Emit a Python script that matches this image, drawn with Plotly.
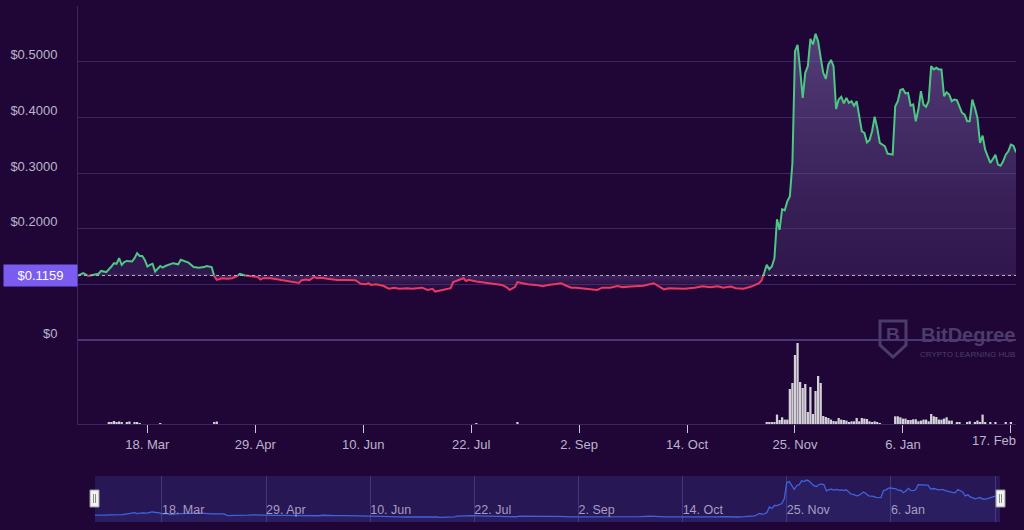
import numpy as np
import pandas as pd
import plotly.graph_objects as go

# ---------------- data ----------------
start_date = "2021-02-19"
baseline_price = 0.1159

price_day = [0, 2, 4, 6, 8, 9, 11, 13, 14, 15, 16, 17, 18, 19, 21, 22, 23, 24, 25, 26,
             27, 28, 29, 30, 32, 33, 34, 37, 39, 40, 42, 43, 45, 47, 49, 50, 52, 53, 54, 56,
             58, 60, 62, 63, 65, 68, 70, 71, 72, 75, 78, 80, 83, 86, 87, 89, 90, 92, 93, 95,
             97, 101, 105, 108, 110, 112, 113, 114, 116, 119, 121, 123, 125, 128, 130, 132, 134, 136, 138, 139,
             140, 143, 145, 146, 148, 150, 151, 152, 155, 157, 160, 162, 165, 167, 168, 170, 171, 173, 175, 178,
             181, 183, 186, 188, 190, 192, 194, 197, 199, 202, 204, 207, 210, 212, 215, 218, 220, 224, 226, 228,
             230, 233, 236, 240, 243, 246, 249, 251, 254, 256, 259, 262, 264, 265, 266, 267, 268, 269, 270, 271,
             272, 273, 274, 275, 276, 277, 278, 279, 280, 281, 282, 283, 284, 285, 286, 287, 288, 289, 290, 291,
             292, 293, 294, 295, 296, 297, 298, 299, 300, 301, 302, 303, 304, 305, 306, 307, 308, 309, 310, 311,
             312, 313, 314, 315, 317, 318, 319, 320, 321, 322, 323, 324, 325, 326, 327, 328, 329, 330, 331, 332,
             333, 334, 335, 336, 337, 338, 339, 340, 341, 342, 343, 344, 345, 346, 347, 348, 349, 350, 351, 352,
             353, 354, 355, 356, 357, 358, 359, 360, 361, 362, 363, 364, 365]
price_usd = [0.1159, 0.120, 0.115, 0.1175, 0.119, 0.124, 0.122, 0.132, 0.138, 0.137, 0.147, 0.135, 0.140, 0.142, 0.141, 0.147, 0.156, 0.151, 0.151, 0.144,
             0.132, 0.135, 0.137, 0.123, 0.133, 0.130, 0.133, 0.138, 0.136, 0.144, 0.140, 0.139, 0.131, 0.130, 0.131, 0.133, 0.131, 0.115, 0.108, 0.111,
             0.110, 0.111, 0.115, 0.119, 0.116, 0.114, 0.113, 0.1085, 0.111, 0.111, 0.109, 0.107, 0.105, 0.1025, 0.1075, 0.1085, 0.1075, 0.1135, 0.111, 0.112,
             0.110, 0.108, 0.108, 0.1075, 0.101, 0.100, 0.102, 0.099, 0.100, 0.097, 0.092, 0.094, 0.092, 0.093, 0.092, 0.093, 0.094, 0.090, 0.092, 0.087,
             0.088, 0.0905, 0.093, 0.104, 0.108, 0.111, 0.106, 0.108, 0.105, 0.104, 0.102, 0.101, 0.099, 0.094, 0.090, 0.095, 0.104, 0.102, 0.100, 0.099,
             0.0965, 0.099, 0.100, 0.102, 0.0975, 0.094, 0.094, 0.092, 0.092, 0.090, 0.094, 0.094, 0.097, 0.095, 0.096, 0.0965, 0.0975, 0.102, 0.096, 0.091,
             0.093, 0.093, 0.092, 0.094, 0.0965, 0.095, 0.0965, 0.094, 0.096, 0.093, 0.092, 0.096, 0.101, 0.102, 0.107, 0.120, 0.135, 0.127, 0.132, 0.147,
             0.217, 0.198, 0.235, 0.233, 0.249, 0.258, 0.318, 0.519, 0.530, 0.486, 0.435, 0.480, 0.492, 0.541, 0.531, 0.550, 0.537, 0.507, 0.480, 0.469,
             0.495, 0.503, 0.492, 0.415, 0.432, 0.437, 0.425, 0.435, 0.426, 0.429, 0.421, 0.429, 0.402, 0.375, 0.372, 0.355, 0.359, 0.375, 0.401, 0.381,
             0.354, 0.351, 0.348, 0.335, 0.333, 0.420, 0.429, 0.449, 0.451, 0.443, 0.444, 0.421, 0.423, 0.393, 0.414, 0.447, 0.423, 0.419, 0.429, 0.492,
             0.486, 0.489, 0.486, 0.486, 0.438, 0.445, 0.441, 0.429, 0.432, 0.431, 0.420, 0.408, 0.405, 0.393, 0.393, 0.432, 0.417, 0.399, 0.354, 0.367,
             0.342, 0.330, 0.318, 0.325, 0.333, 0.315, 0.313, 0.321, 0.333, 0.339, 0.351, 0.349, 0.337]

volume_day = [12, 13, 14, 15, 16, 17, 19, 20, 22, 23, 24, 32, 53, 54, 155, 171,
              268, 269, 270, 271, 272, 273, 274, 275, 276, 277, 278, 279, 280, 281, 282, 283, 284, 285, 286, 287,
              288, 289, 290, 291, 292, 293, 294, 295, 296, 297, 298, 299, 300, 301, 302, 303, 304, 305, 306, 307,
              308, 309, 310, 311, 312, 318, 319, 320, 321, 322, 323, 324, 325, 326, 327, 328, 329, 330, 331, 332,
              333, 334, 335, 336, 337, 338, 339, 340, 342, 343, 346, 347, 349, 350, 351, 352, 353, 355, 357, 361, 363]
volume_musd = [2, 1.5, 3, 2, 2.5, 1.5, 2, 2.5, 1.5, 2, 1, 1, 2, 2.5, 1, 1.5,
               2, 2, 1.5, 2, 9.4, 4, 6.7, 4.4, 4.4, 35, 41, 69, 81, 42, 36, 40, 12, 37, 10, 33,
               48, 41, 8, 7, 6, 4.4, 3, 2.7, 6, 4.4, 4, 3.4, 2, 2.7, 2.7, 6, 2.7, 6, 5.4, 5,
               2.7, 2, 2.7, 2, 1, 7.7, 7.7, 6.7, 5.4, 5.4, 4, 4, 4.7, 4.7, 2.7, 3.4, 4.4, 4.4, 2.7, 10,
               7.7, 7, 4.4, 4.4, 5.4, 6.7, 3.4, 3.4, 2, 2, 2, 2.7, 2, 3.4, 2, 9.4, 2, 1.4, 1.4, 1.4, 1.4]

tick_dates = ["2021-03-18", "2021-04-29", "2021-06-10", "2021-07-22", "2021-09-02",
              "2021-10-14", "2021-11-25", "2022-01-06", "2022-02-17"]
tick_labels = ["18. Mar", "29. Apr", "10. Jun", "22. Jul", "2. Sep",
               "14. Oct", "25. Nov", "6. Jan", "17. Feb"]

price_ticks = [0, 0.1, 0.2, 0.3, 0.4, 0.5, 0.6]
price_tick_labels = ["$0", "", "$0.2000", "$0.3000", "$0.4000", "$0.5000", ""]

# ---------------- styling ----------------
W, H = 1024, 530
BG = "#1f0637"
GRID = "#3b2563"
GREEN = "#4cc784"
RED = "#ee3762"
TXT = "#bdb4cc"
FONT = "Liberation Sans, Arial, sans-serif"


def px_x(p):
    return p / W


def px_y(p):
    return 1 - p / H


t0 = pd.Timestamp(start_date)
dates = t0 + pd.to_timedelta(price_day, unit="D")
vdates = t0 + pd.to_timedelta(volume_day, unit="D")
tickvals = pd.to_datetime(tick_dates)

# split the line into above / below baseline parts (crossing points added for continuity)
xs = dates.values.astype("datetime64[ns]").astype(np.int64).astype(float)
ys = np.array(price_usd, dtype=float)
b = baseline_price
pts_x, pts_y = [xs[0]], [ys[0]]
for i in range(1, len(ys)):
    y0, y1 = ys[i - 1], ys[i]
    if (y0 - b) * (y1 - b) < 0:
        t = (b - y0) / (y1 - y0)
        pts_x.append(xs[i - 1] + t * (xs[i] - xs[i - 1]))
        pts_y.append(b)
    pts_x.append(xs[i])
    pts_y.append(ys[i])
pts_dt = pd.to_datetime(np.array(pts_x).astype(np.int64))
green_y = [v if v >= b else None for v in pts_y]
red_y = [v if v <= b else None for v in pts_y]

fig = go.Figure()

# baseline helper for fill
fig.add_trace(go.Scatter(x=dates, y=[b] * len(dates), mode="lines", line=dict(width=0),
                         hoverinfo="skip", showlegend=False, xaxis="x", yaxis="y"))
fig.add_trace(go.Scatter(
    x=dates, y=price_usd, mode="lines", line=dict(width=0), fill="tonexty",
    fillgradient=dict(type="vertical", start=0.085, stop=0.56,
                      colorscale=[[0.0, "rgba(90,60,130,0.0)"],
                                  [0.066, "rgba(130,95,170,0.35)"],
                                  [0.075, "rgba(85,60,125,0.30)"],
                                  [1.0, "rgba(120,100,165,0.62)"]]),
    hoverinfo="skip", showlegend=False, xaxis="x", yaxis="y"))
fig.add_trace(go.Scatter(x=pts_dt, y=red_y, mode="lines", line=dict(color=RED, width=2),
                         connectgaps=False, showlegend=False, xaxis="x", yaxis="y"))
fig.add_trace(go.Scatter(x=pts_dt, y=green_y, mode="lines", line=dict(color=GREEN, width=2),
                         connectgaps=False, showlegend=False, xaxis="x", yaxis="y"))

# volume
fig.add_trace(go.Bar(x=vdates, y=volume_musd, marker=dict(color="#d3d1d6", line=dict(width=0)),
                     showlegend=False, xaxis="x", yaxis="y2"))

# navigator
fig.add_trace(go.Scatter(x=dates, y=price_usd, mode="lines", line=dict(color="#3f63e0", width=1.3),
                         fill="tozeroy", fillcolor="rgba(70,90,200,0.10)",
                         showlegend=False, xaxis="x3", yaxis="y3"))

xrange = [dates[0], dates[-1]]
main_ticktext = tick_labels[:-1] + [""]

fig.update_layout(
    width=W, height=H,
    paper_bgcolor=BG, plot_bgcolor=BG,
    margin=dict(l=0, r=0, t=0, b=0),
    font=dict(family=FONT, color=TXT),
    bargap=0.12,
    xaxis=dict(domain=[px_x(78), px_x(1016)], anchor="y2", range=xrange,
               tickvals=tickvals, ticktext=main_ticktext, ticks="outside", ticklen=8,
               tickcolor="#cfc8da", tickwidth=1, showgrid=False, showline=True,
               linecolor=GRID, linewidth=1, tickfont=dict(size=13, color=TXT), zeroline=False),
    yaxis=dict(domain=[px_y(340), px_y(6)], anchor="x", range=[0, 0.6],
               tickvals=price_ticks, ticktext=price_tick_labels, ticks="outside", ticklen=17,
               ticklabelshift=-7,
               tickcolor="rgba(0,0,0,0)", showgrid=True, gridcolor=GRID, gridwidth=1,
               zeroline=True, zerolinecolor="#4a3676", zerolinewidth=2,
               showline=True, linecolor=GRID, tickfont=dict(size=13, color=TXT)),
    yaxis2=dict(domain=[px_y(424), px_y(340)], anchor="x", range=[0, 84],
                showgrid=False, showticklabels=False, zeroline=False,
                showline=True, linecolor=GRID),
    xaxis3=dict(domain=[px_x(95), px_x(1000)], anchor="y3", range=xrange,
                tickvals=tickvals, ticktext=tick_labels, ticklabelposition="inside right",
                ticks="", showgrid=True, gridcolor="#44357a", gridwidth=1,
                showline=False, zeroline=False, tickfont=dict(size=12.5, color="#a79cc2")),
    yaxis3=dict(domain=[px_y(522), px_y(476)], anchor="x3", range=[0.03, 0.60],
                visible=False, showgrid=False),
)

shapes = [
    # navigator background
    dict(type="rect", xref="x3 domain", yref="y3 domain", x0=0, x1=1, y0=0, y1=1,
         fillcolor="#271755", line=dict(width=0), layer="below"),
    # baseline dotted line
    dict(type="line", xref="x", yref="y", x0=dates[0], x1=dates[-1], y0=b, y1=b,
         line=dict(color="#b8b0c8", width=1, dash="dot")),
    # navigator handles
    dict(type="rect", xref="paper", yref="paper", x0=px_x(90), x1=px_x(99), y0=px_y(507), y1=px_y(490),
         fillcolor="#f2f2f2", line=dict(color="#9a9a9a", width=1)),
    dict(type="line", xref="paper", yref="paper", x0=px_x(93.5), x1=px_x(93.5), y0=px_y(503), y1=px_y(494),
         line=dict(color="#8a8a8a", width=1)),
    dict(type="line", xref="paper", yref="paper", x0=px_x(95.5), x1=px_x(95.5), y0=px_y(503), y1=px_y(494),
         line=dict(color="#8a8a8a", width=1)),
    dict(type="rect", xref="paper", yref="paper", x0=px_x(996), x1=px_x(1005), y0=px_y(507), y1=px_y(490),
         fillcolor="#f2f2f2", line=dict(color="#9a9a9a", width=1)),
    dict(type="line", xref="paper", yref="paper", x0=px_x(999.5), x1=px_x(999.5), y0=px_y(503), y1=px_y(494),
         line=dict(color="#8a8a8a", width=1)),
    dict(type="line", xref="paper", yref="paper", x0=px_x(1001.5), x1=px_x(1001.5), y0=px_y(503), y1=px_y(494),
         line=dict(color="#8a8a8a", width=1)),
    # watermark shield
    dict(type="path", xref="paper", yref="paper",
         path=(f"M {px_x(880)},{px_y(321)} L {px_x(906)},{px_y(321)} L {px_x(906)},{px_y(345)} "
               f"L {px_x(893)},{px_y(357)} L {px_x(880)},{px_y(345)} Z"),
         line=dict(color="#4c3c6c", width=3), fillcolor="rgba(0,0,0,0)"),
]

annotations = [
    dict(xref="paper", yref="y", x=px_x(78), y=b, xanchor="right", yanchor="middle",
         text="$0.1159", showarrow=False, bgcolor="#7a5cf0", width=69, height=17, borderpad=2,
         font=dict(color="#ffffff", size=13, family=FONT), align="center"),
    # last x tick label, shifted left so it stays inside the chart
    dict(xref="x", yref="paper", x=tickvals[-1], y=px_y(431), xanchor="right", yanchor="top",
         xshift=7, text=tick_labels[-1], showarrow=False, font=dict(color=TXT, size=13, family=FONT)),
    dict(xref="paper", yref="paper", x=px_x(893), y=px_y(334), text="<b>B</b>", showarrow=False,
         font=dict(color="#4c3c6c", size=19, family=FONT), xanchor="center", yanchor="middle"),
    dict(xref="paper", yref="paper", x=px_x(1017), y=px_y(335), text="<b>BitDegree</b>", showarrow=False,
         font=dict(color="#4c3c6c", size=20, family=FONT), xanchor="right", yanchor="middle"),
    dict(xref="paper", yref="paper", x=px_x(1017), y=px_y(354), text="CRYPTO LEARNING HUB", showarrow=False,
         font=dict(color="#4c3c6c", size=8, family=FONT), xanchor="right", yanchor="middle"),
]

fig.update_layout(shapes=shapes, annotations=annotations)

css_js = ("var s='margin:0;padding:0;overflow:hidden;background:" + BG + ";';"
          "document.documentElement.style.cssText=s;document.body.style.cssText=s;")
fig.write_html("out.html", config={"displayModeBar": False}, post_script=css_js)
